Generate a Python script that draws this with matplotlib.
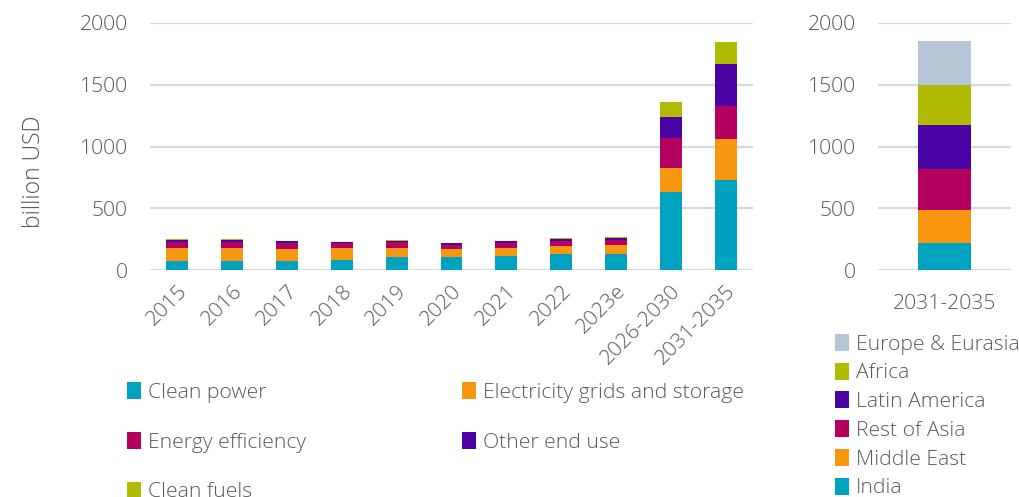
import matplotlib
matplotlib.use("Agg")
import matplotlib.pyplot as plt
from matplotlib.patches import Patch
import numpy as np

# ---- data ----
years = ["2015", "2016", "2017", "2018", "2019", "2020", "2021", "2022", "2023e",
         "2026-2030", "2031-2035"]
clean_power = [70, 70, 70, 81, 102, 105, 113, 126, 130, 634, 732]
grids_storage = [111, 111, 103, 94, 73, 62, 68, 71, 75, 192, 332]
energy_eff = [48, 48, 48, 46, 49, 38, 39, 38, 40, 240, 263]
other_end_use = [16, 16, 11, 3, 13, 14, 12, 19, 14, 173, 342]
clean_fuels = [4, 4, 3, 2, 3, 3, 3, 4, 5, 121, 179]

sector_names = ["Clean power", "Electricity grids and storage", "Energy efficiency",
                "Other end use", "Clean fuels"]
sector_colors = ["#00A3BF", "#F7960F", "#B4005E", "#4A04A5", "#B0BA00"]

region_cat = ["2031-2035"]
region_names = ["India", "Middle East", "Rest of Asia", "Latin America", "Africa",
                "Europe & Eurasia"]
region_values = [221, 265, 332, 356, 323, 357]
region_colors = ["#00A3BF", "#F7960F", "#B4005E", "#4A04A5", "#B0BA00", "#B5C7D7"]

grey = "#595959"
grid_c = "#D9D9D9"
plt.rcParams['font.family'] = ['Open Sans', 'DejaVu Sans']
plt.rcParams['font.weight'] = 'light'
FS = 15.2

W, H = 1020, 497
fig = plt.figure(figsize=(W / 100, H / 100), dpi=100)

def ax_rect(x0, x1, y_top, y_bot):
    return [x0 / W, 1 - y_bot / H, (x1 - x0) / W, (y_bot - y_top) / H]

ax = fig.add_axes(ax_rect(150, 753, 23, 270))
ax2 = fig.add_axes(ax_rect(878, 1011, 23, 270))

# left stacked bars
series = [clean_power, grids_storage, energy_eff, other_end_use, clean_fuels]
x = np.arange(len(years))
bottom = np.zeros(len(years))
handles_left = []
for vals, name, col in zip(series, sector_names, sector_colors):
    ax.bar(x, vals, width=0.4, bottom=bottom, color=col, label=name, zorder=3)
    bottom += np.array(vals)
    handles_left.append(Patch(facecolor=col, label=name))

# right stacked bar
b = 0.0
handles_right = []
for v, name, col in zip(region_values, region_names, region_colors):
    ax2.bar([0], [v], width=0.406, bottom=b, color=col, zorder=3)
    b += v
    handles_right.append(Patch(facecolor=col, label=name))

for a in (ax, ax2):
    a.set_ylim(0, 2000)
    a.set_yticks([0, 500, 1000, 1500, 2000])
    a.grid(axis='y', color=grid_c, linewidth=1.6, zorder=0)
    for s in a.spines.values():
        s.set_visible(False)
    a.tick_params(axis='both', length=0, colors=grey, labelsize=FS)
    a.tick_params(axis='y', pad=16)

ax.set_xlim(-0.5, len(years) - 0.5)
ax.set_xticks(x)
ax.set_xticklabels(years, rotation=45, ha='right', rotation_mode='anchor')
ax.tick_params(axis='x', pad=8)
fig.text(34 / W, 1 - 172 / H, "billion USD", rotation=90, color=grey, fontsize=16.5,
         ha='center', va='center')

ax2.set_xlim(-0.5, 0.5)
ax2.set_xticks([0])
ax2.set_xticklabels(region_cat)
ax2.tick_params(axis='x', pad=17)

# left legend: two columns as separate legends
col1 = [handles_left[0], handles_left[2], handles_left[4]]
col2 = [handles_left[1], handles_left[3]]
leg_kw = dict(frameon=False, fontsize=FS, handlelength=0.65, handleheight=0.85,
              handletextpad=0.35, labelcolor=grey, borderaxespad=0, borderpad=0)
l1 = fig.legend(handles=col1, loc='upper left', bbox_to_anchor=(127 / W, 1 - 382 / H),
                labelspacing=1.38, **leg_kw)
l2 = fig.legend(handles=col2, loc='upper left', bbox_to_anchor=(462 / W, 1 - 382 / H),
                labelspacing=1.38, **leg_kw)
l3 = fig.legend(handles=handles_right[::-1], loc='upper left',
                bbox_to_anchor=(835 / W, 1 - 334 / H), labelspacing=0.38, **leg_kw)

fig.savefig("out.png", dpi=100)
